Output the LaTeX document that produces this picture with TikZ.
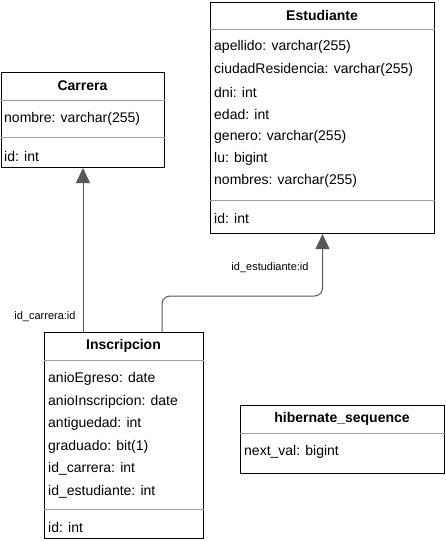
\documentclass[tikz,border=0pt]{standalone}
\usepackage{fontspec}
\setmainfont{Liberation Sans}
\usetikzlibrary{arrows.meta}
\definecolor{connc}{HTML}{595959}
\definecolor{sepc}{HTML}{9E9E9E}
\begin{document}
\begin{tikzpicture}[x=1pt,y=-1pt,
  tbl/.style={draw=black, line width=1pt, fill=white, inner sep=0pt, anchor=north west},
  hdr/.style={font=\fontsize{14}{16}\selectfont\bfseries, inner sep=0pt},
  fld/.style={font=\fontsize{14}{16}\selectfont, inner sep=0pt, anchor=west},
  sepl/.style={draw=sepc, line width=0.8pt},
  connl/.style={draw=connc, line width=1pt, -{Triangle[length=15pt,width=14pt]}},
  lbl/.style={font=\fontsize{11}{13}\selectfont, inner sep=0pt}]
\fill[white] (0,0) rectangle (445,541);
\useasboundingbox (0,0) rectangle (445,541);

% Carrera
\node[tbl, minimum width=163pt, minimum height=95pt] (carrera) at (1,72) {};
\node[hdr] (carreraH) at (82.5,85.5) {Carrera};
\draw[sepl] (carrera.west |- 0,100) -- (carrera.east |- 0,100);
\node[fld] (carrera1) at (4,119) {nombre: varchar(255)};
\draw[sepl] (carrera.west |- 0,137) -- (carrera.east |- 0,137);
\node[fld] (carrera2) at (4,156) {id: int};

% Estudiante
\node[tbl, minimum width=224pt, minimum height=231pt] (est) at (210,2) {};
\node[hdr] (estH) at (322,15.5) {Estudiante};
\draw[sepl] (est.west |- 0,29) -- (est.east |- 0,29);
\node[fld] (est1) at (214,47) {apellido: varchar(255)};
\node[fld] (est2) at (214,69.5) {ciudadResidencia: varchar(255)};
\node[fld] (est3) at (214,92) {dni: int};
\node[fld] (est4) at (214,114) {edad: int};
\node[fld] (est5) at (214,136.5) {genero: varchar(255)};
\node[fld] (est6) at (214,159) {lu: bigint};
\node[fld] (est7) at (214,181) {nombres: varchar(255)};
\draw[sepl] (est.west |- 0,200) -- (est.east |- 0,200);
\node[fld] (est8) at (214,218) {id: int};

% Inscripcion
\node[tbl, minimum width=159pt, minimum height=206pt] (insc) at (44,332) {};
\node[hdr] (inscH) at (123.5,345.5) {Inscripcion};
\draw[sepl] (insc.west |- 0,360) -- (insc.east |- 0,360);
\node[fld] (insc1) at (48,379) {anioEgreso: date};
\node[fld] (insc2) at (48,401.5) {anioInscripcion: date};
\node[fld] (insc3) at (48,424) {antiguedad: int};
\node[fld] (insc4) at (48,446.5) {graduado: bit(1)};
\node[fld] (insc5) at (48,469) {id\_carrera: int};
\node[fld] (insc6) at (48,491.5) {id\_estudiante: int};
\draw[sepl] (insc.west |- 0,509) -- (insc.east |- 0,509);
\node[fld] (insc7) at (48,527) {id: int};

% hibernate_sequence
\node[tbl, minimum width=204pt, minimum height=68pt] (hib) at (240,405) {};
\node[hdr] (hibH) at (342,418.5) {hibernate\_sequence};
\draw[sepl] (hib.west |- 0,433) -- (hib.east |- 0,433);
\node[fld] (hib1) at (244,452) {next\_val: bigint};

% connectors
\draw[connl] (carrera.south |- insc.north) -- (carrera.south);
\draw[connl, rounded corners=8pt] ([xshift=118pt]insc.north west) -- ++(0,-36) -| (est.south);
\node[lbl] (lblC) at (45,317) {id\_carrera:id};
\node[lbl] (lblE) at (270,268) {id\_estudiante:id};
\end{tikzpicture}
\end{document}
